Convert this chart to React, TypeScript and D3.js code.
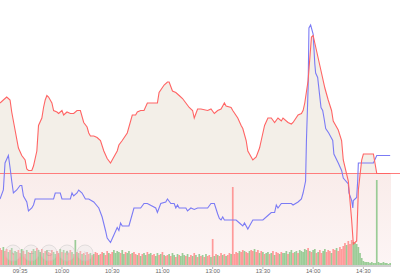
import React from "react";
import * as d3 from "d3";

const W = 400;
const H = 275;
const PREV_CLOSE = 10.0;

// minutes since 09:30 (trading minutes, 11:30 == 13:00 == 120)
const PRICE_T = [-7, -5, -3, -2, -1, 0, 2, 4, 6, 8, 9, 10, 12, 13, 15, 16, 18, 19, 20, 21, 22, 24, 25, 27, 28, 30, 31, 33, 35, 37, 39, 41, 43, 45, 46, 47, 49, 51, 53, 55, 57, 59, 61, 63, 64, 66, 69, 72, 74, 75, 77, 79, 81, 85, 87, 88, 91, 93, 94, 96, 98, 100, 102, 104, 106, 108, 109, 111, 113, 117, 119, 121, 123, 125, 127, 128, 131, 132, 135, 137, 138, 140, 141, 144, 146, 148, 149, 151, 153, 155, 157, 159, 161, 162, 165, 167, 168, 171, 173, 174, 175, 177, 179, 180, 181, 183, 185, 187, 189, 191, 192, 195, 197, 198, 201, 203, 204, 206, 207, 209, 210, 216, 218, 226];
const PRICE_V = [10.47, 10.49, 10.51, 10.5, 10.49, 10.41, 10.29, 10.17, 10.12, 10.09, 10.03, 10.02, 10.02, 10.05, 10.15, 10.32, 10.37, 10.44, 10.49, 10.52, 10.51, 10.47, 10.42, 10.41, 10.4, 10.42, 10.39, 10.41, 10.4, 10.4, 10.42, 10.42, 10.34, 10.31, 10.27, 10.25, 10.25, 10.24, 10.22, 10.15, 10.1, 10.07, 10.11, 10.15, 10.19, 10.22, 10.27, 10.39, 10.39, 10.41, 10.42, 10.42, 10.47, 10.47, 10.47, 10.54, 10.59, 10.61, 10.61, 10.55, 10.54, 10.52, 10.5, 10.47, 10.44, 10.42, 10.37, 10.43, 10.43, 10.42, 10.43, 10.4, 10.42, 10.43, 10.47, 10.45, 10.44, 10.42, 10.37, 10.32, 10.3, 10.22, 10.15, 10.09, 10.11, 10.17, 10.22, 10.32, 10.37, 10.37, 10.34, 10.37, 10.35, 10.37, 10.34, 10.33, 10.34, 10.39, 10.4, 10.42, 10.47, 10.62, 10.91, 10.92, 10.87, 10.77, 10.67, 10.57, 10.49, 10.42, 10.35, 10.29, 10.22, 10.09, 9.95, 9.69, 9.53, 9.55, 9.89, 10.09, 10.13, 10.13, 10.0, 10.0];

const AVG_T = [-7, -5, -4, -2, -1, 0, 1, 3, 5, 6, 7, 9, 10, 12, 13, 14, 25, 26, 29, 30, 35, 36, 37, 39, 40, 42, 44, 46, 49, 52, 54, 56, 57, 59, 61, 63, 64, 65, 66, 70, 71, 73, 77, 79, 81, 86, 87, 88, 89, 92, 93, 95, 97, 98, 99, 100, 104, 105, 107, 109, 111, 113, 117, 119, 121, 123, 124, 125, 126, 127, 134, 136, 138, 139, 141, 142, 143, 144, 150, 153, 155, 157, 158, 159, 161, 167, 168, 171, 173, 174, 175.5, 176, 177, 177.5, 178.5, 180, 181, 181.5, 182.7, 184.7, 185.7, 186.5, 187.5, 189.3, 191.7, 192.4, 195, 197, 198, 201, 201.4, 203, 203.7, 204, 206, 206.6, 207, 216, 218, 226];
const AVG_V = [9.83, 9.89, 10.07, 10.12, 10.04, 9.95, 9.87, 9.89, 9.92, 9.92, 9.85, 9.81, 9.75, 9.77, 9.79, 9.83, 9.83, 9.87, 9.87, 9.83, 9.83, 9.87, 9.85, 9.87, 9.89, 9.87, 9.83, 9.83, 9.81, 9.77, 9.71, 9.62, 9.57, 9.54, 9.59, 9.64, 9.62, 9.67, 9.65, 9.65, 9.69, 9.77, 9.77, 9.8, 9.8, 9.77, 9.74, 9.77, 9.8, 9.81, 9.83, 9.8, 9.8, 9.77, 9.79, 9.77, 9.77, 9.75, 9.77, 9.76, 9.77, 9.77, 9.77, 9.8, 9.8, 9.73, 9.7, 9.69, 9.71, 9.69, 9.69, 9.67, 9.65, 9.67, 9.63, 9.65, 9.67, 9.69, 9.69, 9.72, 9.74, 9.74, 9.79, 9.77, 9.8, 9.8, 9.79, 9.81, 9.83, 9.87, 9.95, 10.22, 10.57, 10.97, 10.99, 10.93, 10.73, 10.67, 10.64, 10.44, 10.42, 10.37, 10.3, 10.27, 10.22, 10.13, 10.07, 10.02, 9.97, 9.93, 9.87, 9.82, 9.77, 9.82, 9.84, 9.95, 10.07, 10.07, 10.12, 10.12];

// one volume bar per minute, starting at minute -7
const VOL_START = -7;
const VOLUMES = [
  17, 15, 18, 14, 16, 13, 15, 17, 12, 14,
  13, 15, 12, 16, 14, 11, 15, 13, 12, 14,
  16, 14, 17, 15, 13, 16, 12, 14, 15, 13,
  12, 15, 13, 11, 14, 12, 16, 13, 15, 12,
  14, 12, 15, 13, 11, 25, 13, 12, 14, 11,
  12, 10, 13, 11, 12, 10, 11, 13, 12, 10,
  11, 13, 12, 10, 14, 12, 11, 13, 15, 12,
  14, 13, 12, 15, 11, 13, 12, 14, 11, 12,
  13, 11, 10, 12, 9, 11, 12, 10, 13, 11,
  12, 10, 11, 9, 12, 10, 11, 13, 10, 9,
  10, 11, 9, 12, 10, 8, 11, 10, 9, 12,
  10, 9, 11, 8, 10, 9, 12, 10, 8, 11,
  9, 10, 8, 11, 9, 10, 8, 26, 9, 11,
  10, 9, 12, 10, 11, 9, 10, 12, 11, 78,
  11, 13, 12, 14, 13, 15, 14, 13, 12, 14,
  15, 14, 16, 13, 15, 12, 14, 13, 11, 12,
  13, 11, 12, 14, 10, 13, 12, 11, 13, 12,
  12, 14, 11, 13, 15, 12, 13, 14, 12, 15,
  14, 13, 16, 15, 17, 14, 13, 15, 16, 12,
  13, 15, 12, 14, 16, 13, 15, 14, 12, 16,
  15, 17, 14, 18, 16, 19, 22, 20, 24, 21,
  25, 23, 22, 21, 18, 12, 7, 4, 3, 3,
  3, 2, 3, 2, 2, 85, 3, 2, 2, 3,
  2, 2, 1, 2,
];
const VOL_DIR = [
  "rrgrrgrgrg", "grrgrrgrgr", "ggrggrgrgr", "rrggrrgrgr", "grrgrgrgrg",
  "rgrrgrgrrg", "rrgrrgrrgg", "ggrggrggrg", "rrgrgrggrg", "grrggrgrgr",
  "rgrggrgrgg", "grgrrgrgrg", "rgrgrrgrgr", "grrgrgrrgr", "rrrgrrgrrg",
  "rrgrrgrgrg", "grgrgrrgrg", "ggrggrggrg", "ggggrgrggr", "grrggrrrgr",
  "rgrrrrrgrr", "rggggggggg", "gggggggggg", "gggg",
].join("");

const TICK_T = [5, 30, 60, 90, 120, 150, 180, 210];
const TICK_LABELS = ["09:35", "10:00", "10:30", "11:00", "13:00", "13:30", "14:00", "14:30"];

const ZOOM_BUTTONS = ["‹", "–", "C", "+", "›"];

export default function App() {
  const x = d3.scaleLinear().domain([-7, 226.5]).range([0, 391]);
  const y = d3.scaleLinear().domain([9.39, 11.15]).range([265, 1]);
  const yVol = d3.scaleLinear().domain([0, 90]).range([265, 175]);
  const base = y(PREV_CLOSE);

  const pricePts: [number, number][] = PRICE_T.map((t, i) => [t, PRICE_V[i]]);
  const avgPts: [number, number][] = AVG_T.map((t, i) => [t, AVG_V[i]]);

  const line = d3
    .line<[number, number]>()
    .x((d) => x(d[0]))
    .y((d) => y(d[1]));
  const area = d3
    .area<[number, number]>()
    .x((d) => x(d[0]))
    .y0(base)
    .y1((d) => y(d[1]));

  const plotRight = x(226.5);
  const barW = 1.7;

  return (
    <svg
      width={W}
      height={H}
      style={{ position: "fixed", left: 0, top: 0, background: "#fff" }}
      fontFamily="Liberation Sans, Arial, sans-serif"
    >
      <defs>
        <linearGradient id="pinkbg" x1="0" y1="0" x2="0" y2="1">
          <stop offset="0%" stopColor="#f9ecea" />
          <stop offset="100%" stopColor="#fdf5f5" />
        </linearGradient>
        <clipPath id="above">
          <rect x={0} y={0} width={plotRight} height={base} />
        </clipPath>
      </defs>

      <rect x={0} y={base} width={plotRight} height={265 - base} fill="url(#pinkbg)" />
      <path d={area(pricePts) || ""} fill="#f3efe8" clipPath="url(#above)" />

      {VOLUMES.map((v, i) => {
        const t = VOL_START + i;
        const red = VOL_DIR[i] === "r";
        return (
          <rect
            key={i}
            x={x(t) - barW / 2}
            y={yVol(v)}
            width={barW}
            height={265 - yVol(v)}
            fill={red ? "#ff8383" : "#82c27f"}
            fillOpacity={0.8}
          />
        );
      })}

      <line x1={0} x2={W} y1={base} y2={base} stroke="#ff7c7c" strokeWidth={1} />

      <path d={line(avgPts) || ""} fill="none" stroke="#7b7bf5" strokeWidth={1.1} />
      <path d={line(pricePts) || ""} fill="none" stroke="#ff6464" strokeWidth={1.1} />

      {ZOOM_BUTTONS.map((b, i) => (
        <g key={b} transform={`translate(${13 + i * 18},253)`} opacity={0.5}>
          <circle r={8} fill="#e4e4e4" fillOpacity={0.6} stroke="#c8c8c8" strokeWidth={1} />
          <text textAnchor="middle" dy="0.35em" fontSize={9} fill="#aaa">
            {b}
          </text>
        </g>
      ))}

      <line x1={0} x2={plotRight} y1={266} y2={266} stroke="#cfcfcf" strokeWidth={2} />
      {TICK_T.map((t, i) => (
        <g key={t} transform={`translate(${x(t)},0)`}>
          <line y1={267} y2={269} stroke="#bbb" strokeWidth={1} />
          <text y={273} textAnchor="middle" fontSize={5.8} fill="#666">
            {TICK_LABELS[i]}
          </text>
        </g>
      ))}
    </svg>
  );
}
